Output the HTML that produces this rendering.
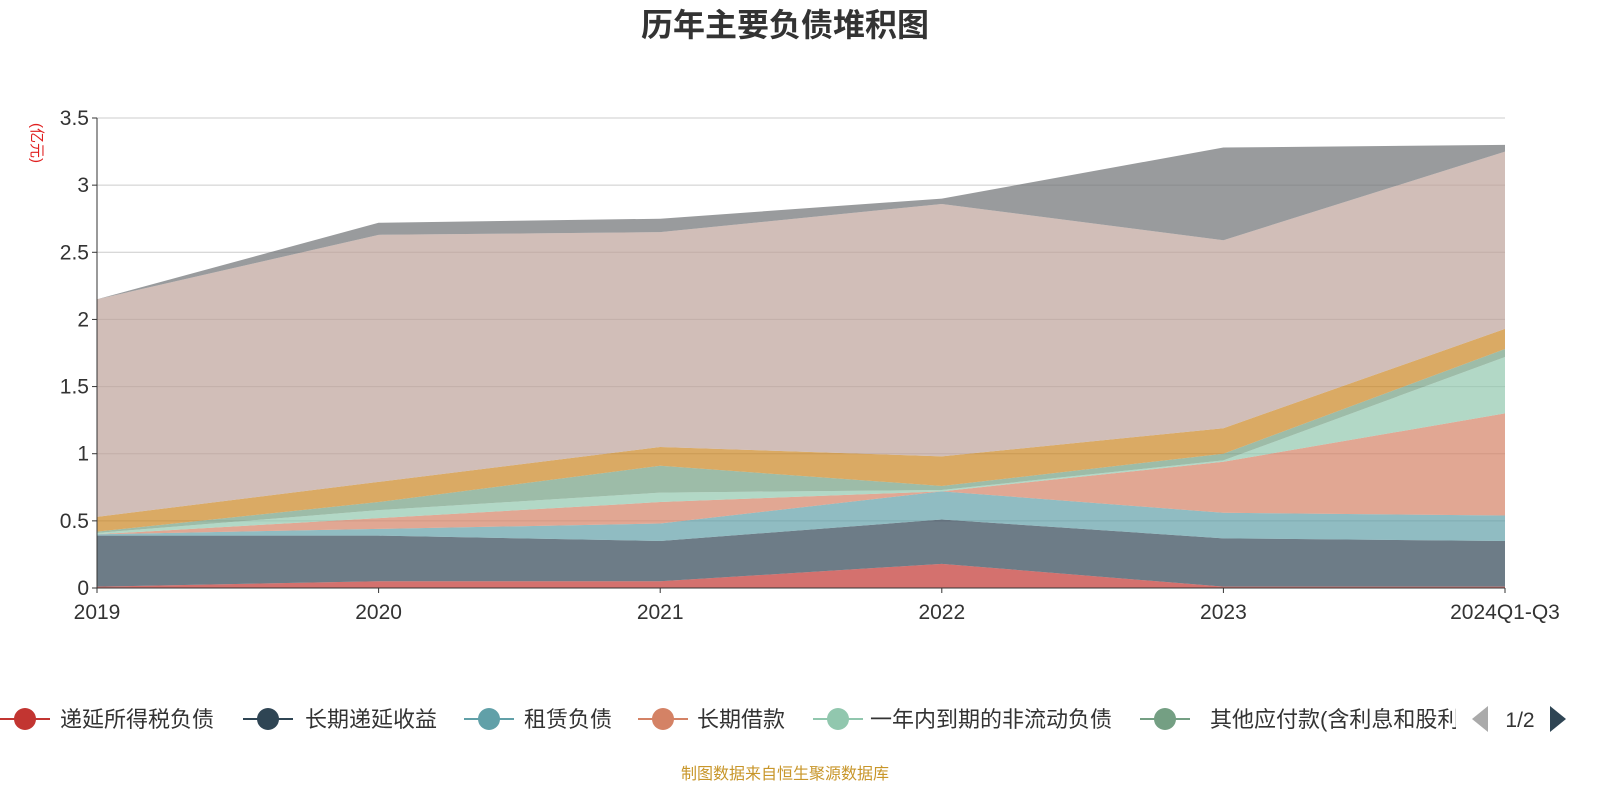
<!DOCTYPE html>
<html><head><meta charset="utf-8">
<style>
body{margin:0;background:#fff;font-family:"Liberation Sans","Noto Sans CJK SC",sans-serif;}
svg text{font-family:"Liberation Sans","Noto Sans CJK SC",sans-serif;}
</style></head>
<body>
<svg id="c" width="1600" height="800">
<defs><clipPath id="legclip" clipPathUnits="userSpaceOnUse"><rect x="0" y="690" width="1456" height="60"/></clipPath></defs>
<text x="785" y="36" text-anchor="middle" font-size="32" font-weight="bold" fill="#333">历年主要负债堆积图</text>
<text x="0" y="0" transform="translate(32,143) rotate(90)" text-anchor="middle" font-size="15" fill="#e02020">(亿元)</text>
<g id="grid"></g><g id="areas"></g><g id="axes"></g><g id="legend" clip-path="url(#legclip)"></g><g id="pager"></g>
<text x="785" y="779" text-anchor="middle" font-size="16" fill="#c8962a">制图数据来自恒生聚源数据库</text>
</svg>
<script>
const categories=["2019","2020","2021","2022","2023","2024Q1-Q3"];
const seriesNames=["递延所得税负债","长期递延收益","租赁负债","长期借款","一年内到期的非流动负债","其他应付款(含利息和股利)","应付职工薪酬","应付账款","合同负债"];
const s1=[0.01,0.05,0.05,0.18,0.01,0.01];
const s2=[0.38,0.34,0.30,0.33,0.36,0.34];
const s3=[0.01,0.05,0.13,0.21,0.19,0.19];
const s4=[0.00,0.08,0.16,0.00,0.38,0.76];
const s5=[0.01,0.06,0.07,0.01,0.01,0.42];
const s6=[0.01,0.06,0.20,0.03,0.05,0.06];
const s7=[0.11,0.15,0.14,0.22,0.19,0.15];
const s8=[1.62,1.84,1.60,1.88,1.40,1.32];
const s9=[0.00,0.09,0.10,0.04,0.69,0.05];
const yTicks=[0,0.5,1,1.5,2,2.5,3,3.5];
const tickLabels=["0","0.5","1","1.5","2","2.5","3","3.5"];
const series=[s1,s2,s3,s4,s5,s6,s7,s8,s9];
const colors=["#c23531","#2f4554","#61a0a8","#d48265","#91c7ae","#749f83","#ca8622","#bda29a","#6e7074"];
const NS="http://www.w3.org/2000/svg";
const X0=97,X1=1505,Y0=588,Y1=118,YMAX=3.5;
const xs=i=>X0+(X1-X0)*i/(categories.length-1);
const ys=v=>Y0-(Y0-Y1)*v/YMAX;
function mk(t,a,p){const e=document.createElementNS(NS,t);for(const k in a)e.setAttribute(k,a[k]);p.appendChild(e);return e;}
const grid=document.getElementById('grid'),axes=document.getElementById('axes'),areas=document.getElementById('areas'),leg=document.getElementById('legend'),pager=document.getElementById('pager');
yTicks.forEach((v,i)=>{
 if(v>0){const l=mk('line',{x1:X0,x2:X1,y1:ys(v),y2:ys(v),stroke:'#ccc'},grid);
 
 }
 const t=mk('text',{x:X0-8,y:ys(v)+7,'text-anchor':'end','font-size':21,fill:'#333'},axes);t.textContent=tickLabels[i];
 
 
 mk('line',{x1:X0-5,x2:X0,y1:ys(v),y2:ys(v),stroke:'#333'},axes);
});
let base=categories.map(()=>0);
series.forEach((s,k)=>{
 const top=base.map((b,i)=>b+s[i]);
 let d='M'+top.map((v,i)=>xs(i)+','+ys(v)).join('L');
 for(let i=categories.length-1;i>=0;i--)d+='L'+xs(i)+','+ys(base[i]);
 const p=mk('path',{d:d+'Z',fill:colors[k],'fill-opacity':0.7},areas);
 
 
 base=top;
});
mk('line',{x1:X0,x2:X0,y1:Y1,y2:Y0,stroke:'#333'},axes);
mk('line',{x1:X0,x2:X1,y1:Y0,y2:Y0,stroke:'#333'},axes);
categories.forEach((c,i)=>{
 mk('line',{x1:xs(i),x2:xs(i),y1:Y0,y2:Y0+5,stroke:'#333'},axes);
 const t=mk('text',{x:xs(i),y:Y0+31,'text-anchor':'middle','font-size':21,fill:'#333'},axes);t.textContent=c;
 
 
});
const cx=[25,268,489,663,838,1165];
const tx=[60,305,524,697,870,1210];
for(let k=0;k<6;k++){
 const g=mk('g',{},leg);
 
 
 mk('line',{x1:cx[k]-25,x2:cx[k]+25,y1:719,y2:719,stroke:colors[k],'stroke-width':2},g);
 mk('circle',{cx:cx[k],cy:719,r:11,fill:colors[k]},g);
 const t=mk('text',{x:tx[k],y:727,'font-size':22,fill:'#333'},g);t.textContent=seriesNames[k];
}
const pv=mk('polygon',{points:'1472,719 1488,706 1488,732',fill:'#aaa'},pager);


const pg=mk('text',{x:1520,y:727,'text-anchor':'middle','font-size':21,fill:'#333'},pager);pg.textContent='1/2';


const nx=mk('polygon',{points:'1550,706 1566,719 1550,732',fill:'#2f4554'},pager);


</script>
</body></html>
